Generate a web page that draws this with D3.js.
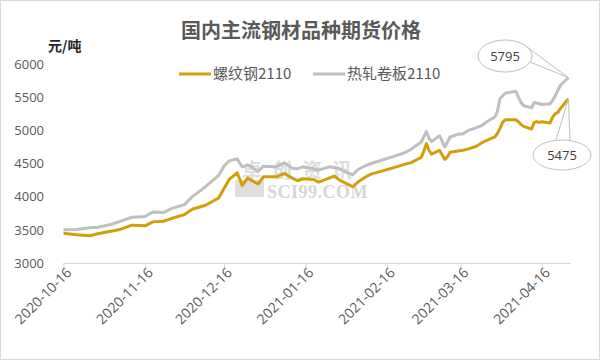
<!DOCTYPE html>
<html><head><meta charset="utf-8">
<script src="https://cdn.jsdelivr.net/npm/d3@7"></script>
<style>body{margin:0;background:#fff}svg{display:block}</style>
</head><body>
<svg id="c" width="600" height="360"></svg>
<script>
const title = "国内主流钢材品种期货价格";
const unitLabel = "元/吨";
const seriesNames = ["螺纹钢2110", "热轧卷板2110"];
const dates = ["2020-10-16","2020-10-21","2020-10-26","2020-10-29","2020-11-03","2020-11-06","2020-11-11","2020-11-16","2020-11-19","2020-11-23","2020-11-26","2020-12-01","2020-12-04","2020-12-09","2020-12-14","2020-12-16","2020-12-18","2020-12-21","2020-12-23","2020-12-25","2020-12-29","2020-12-31","2021-01-05","2021-01-08","2021-01-11","2021-01-13","2021-01-15","2021-01-19","2021-01-21","2021-01-25","2021-01-27","2021-01-29","2021-02-01","2021-02-03","2021-02-05","2021-02-08","2021-02-10","2021-02-18","2021-02-22","2021-02-25","2021-03-01","2021-03-02","2021-03-03","2021-03-04","2021-03-05","2021-03-08","2021-03-10","2021-03-11","2021-03-12","2021-03-15","2021-03-17","2021-03-19","2021-03-22","2021-03-24","2021-03-26","2021-03-29","2021-03-30","2021-03-31","2021-04-01","2021-04-02","2021-04-06","2021-04-07","2021-04-08","2021-04-09","2021-04-12","2021-04-13","2021-04-14","2021-04-15","2021-04-16","2021-04-19","2021-04-20","2021-04-21","2021-04-22","2021-04-23","2021-04-26"];
const rebar = [3450,3425,3410,3440,3480,3500,3570,3560,3620,3630,3670,3730,3810,3870,3980,4120,4260,4360,4170,4280,4190,4300,4300,4350,4280,4240,4270,4260,4220,4280,4310,4250,4190,4150,4220,4300,4340,4430,4480,4510,4590,4680,4800,4700,4640,4700,4560,4600,4670,4690,4700,4720,4760,4810,4850,4900,4950,5030,5120,5160,5160,5130,5090,5060,5020,5120,5130,5120,5130,5110,5200,5250,5270,5330,5475];
const hrc = [3500,3505,3530,3540,3580,3620,3690,3700,3770,3760,3820,3880,4000,4150,4320,4460,4540,4570,4450,4480,4380,4460,4450,4510,4430,4420,4450,4420,4400,4450,4440,4420,4360,4330,4410,4470,4500,4600,4650,4710,4820,4900,4980,4880,4830,4920,4750,4820,4900,4940,4950,5000,5040,5070,5130,5200,5280,5480,5520,5560,5590,5500,5420,5370,5340,5420,5410,5400,5390,5400,5450,5520,5600,5680,5795];
const yTicks = [3000,3500,4000,4500,5000,5500,6000];
const xTickLabels = ["2020-10-16","2020-11-16","2020-12-16","2021-01-16","2021-02-16","2021-03-16","2021-04-16"];
const axisEnd = "2021-04-27";
const colors = ["#d09f0a", "#bfbfbf"];

const parse = d3.timeParse("%Y-%m-%d");
const svg = d3.select("#c");
const font = "'Open Sans','Noto Sans CJK SC',sans-serif";
const cjk = "'Noto Sans CJK SC','Open Sans',sans-serif";

svg.append("rect").attr("x",0.5).attr("y",0.5).attr("width",599).attr("height",359)
  .attr("fill","#fff").attr("stroke","#d9d9d9");

const x = d3.scaleTime().domain([parse(dates[0]), parse(axisEnd)]).range([63.5, 571]);
const y = d3.scaleLinear().domain([3000, 6000]).range([263, 64]);

// watermark
const wm = svg.append("g");
wm.append("rect").attr("x",235).attr("y",180).attr("width",29).attr("height",17).attr("fill","#dedede");
wm.append("text").attr("x",242).attr("y",178).attr("font-family",cjk).attr("font-size",20).attr("font-weight","bold").attr("letter-spacing",10).attr("fill","#dedede").text("卓创资讯");
wm.append("text").attr("x",267).attr("y",198).attr("font-family","'Liberation Serif',serif").attr("font-size",18).attr("font-weight","bold").attr("fill","#d6d6d6").attr("letter-spacing",0.5).text("SCI99.COM");

// y axis labels
svg.append("g").selectAll("text").data(yTicks).join("text")
  .attr("x",44).attr("y",d=>y(d)).attr("dy","0.36em").attr("text-anchor","end")
  .attr("font-family",font).attr("font-size",13).attr("fill","#595959").text(d=>d);

// x axis
const xAxis = d3.axisBottom(x).tickValues(xTickLabels.map(parse)).tickSize(6).tickFormat(d3.timeFormat("%Y-%m-%d"));
const gx = svg.append("g").attr("transform","translate(0,263)").call(xAxis);
gx.select(".domain").attr("stroke","#d9d9d9").attr("d","M63.5,0.5H571");
gx.selectAll(".tick line").attr("stroke","#d9d9d9");
gx.selectAll(".tick text").attr("font-family",font).attr("font-size",14).attr("fill","#595959")
  .attr("text-anchor","end").attr("transform","translate(5,7) rotate(-45)").attr("dy","0.35em").attr("y",0).attr("x",0);

// lines
const line = d3.line().x((d,i)=>x(parse(dates[i]))).y(d=>y(d));
svg.append("path").datum(hrc).attr("d",line).attr("fill","none").attr("stroke",colors[1]).attr("stroke-width",3).attr("stroke-linejoin","round");
svg.append("path").datum(rebar).attr("d",line).attr("fill","none").attr("stroke",colors[0]).attr("stroke-width",3).attr("stroke-linejoin","round");

// title
svg.append("text").attr("x",301).attr("y",38).attr("text-anchor","middle").attr("font-family",cjk)
  .attr("font-size",20).attr("font-weight","bold").attr("fill","#595959").text(title);
svg.append("text").attr("x",48).attr("y",51).attr("font-family",cjk).attr("font-size",14).attr("font-weight","bold").attr("fill","#262626").text(unitLabel);

// legend
const leg = [{x:179,t:seriesNames[0],c:colors[0]},{x:313,t:seriesNames[1],c:colors[1]}];
leg.forEach(l=>{
  svg.append("line").attr("x1",l.x).attr("x2",l.x+32).attr("y1",74).attr("y2",74).attr("stroke",l.c).attr("stroke-width",3);
  svg.append("text").attr("x",l.x+34).attr("y",74).attr("dy","0.36em").attr("font-family",cjk).attr("font-size",15).attr("fill","#595959").text(l.t);
});

// callouts
function callout(cx,cy,rx,ry,px,py,b1,b2,txt){
  const g = svg.append("g");
  g.append("path").attr("d",`M${b1[0]},${b1[1]}L${px},${py}L${b2[0]},${b2[1]}`).attr("fill","#fff").attr("stroke","#bfbfbf").attr("stroke-width",1);
  g.append("ellipse").attr("cx",cx).attr("cy",cy).attr("rx",rx).attr("ry",ry).attr("fill","#fff").attr("stroke","#bfbfbf");
  g.append("text").attr("x",cx).attr("y",cy).attr("dy","0.36em").attr("text-anchor","middle").attr("font-family",font).attr("font-size",13).attr("fill","#404040").text(txt);
}
const lastI = dates.length-1;
const lx = x(parse(dates[lastI]));
callout(505,56,27,16,lx,y(hrc[lastI]),[527,47],[530,62],hrc[lastI]);
callout(562,155,29,15,lx,y(rebar[lastI]),[556,140],[570,140],rebar[lastI]);
</script>
</body></html>
